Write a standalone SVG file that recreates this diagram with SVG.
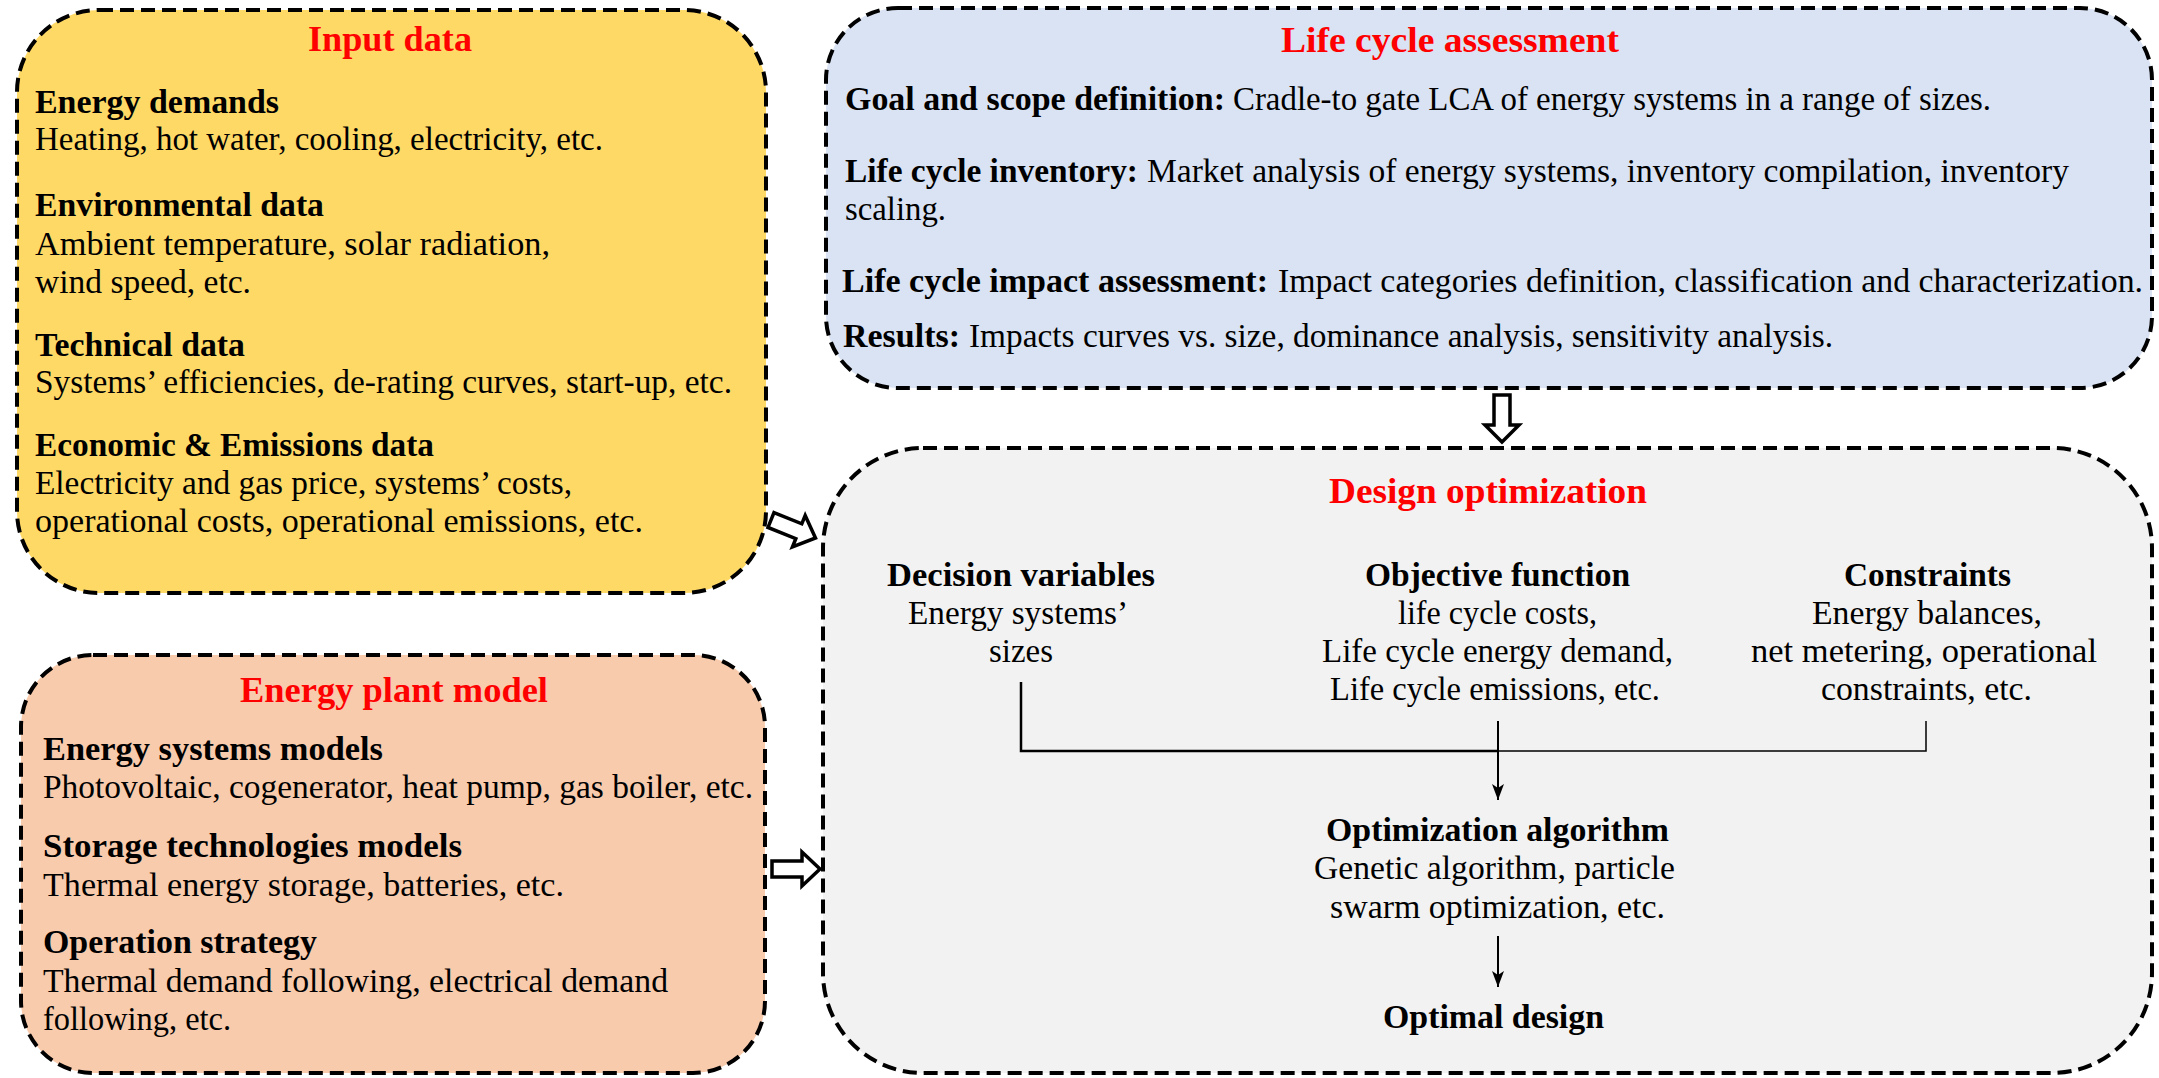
<svg xmlns="http://www.w3.org/2000/svg" width="2159" height="1078" viewBox="0 0 2159 1078">
<style>
.box{stroke:#000;stroke-width:4;stroke-dasharray:14 7}
text{font-family:"Liberation Serif","Times New Roman",serif;fill:#000}
.h{font-weight:bold;font-size:33.5px}
.r{font-size:33.5px}
.t{font-weight:bold;font-size:36px;fill:#FF0000}
.blk{fill:#fff;stroke:#000;stroke-width:3.5;stroke-linejoin:miter}
.cn{stroke:#000;fill:none}
</style>
<defs>
<marker id="ah" markerUnits="userSpaceOnUse" markerWidth="18" markerHeight="12" refX="16" refY="6" orient="auto">
<path d="M0,0 L16,6 L0,12 L4,6 z" fill="#000"/>
</marker>
</defs>
<rect width="2159" height="1078" fill="#fff"/>

<g id="input-data">
<rect class="box" x="17" y="10" width="749" height="583" rx="82" ry="82" fill="#FFD966"/>
<text class="t" x="308" y="51" textLength="164" lengthAdjust="spacingAndGlyphs">Input data</text>
<text class="h" x="35" y="113" textLength="244" lengthAdjust="spacingAndGlyphs">Energy demands</text>
<text class="r" x="35" y="150" textLength="568" lengthAdjust="spacingAndGlyphs">Heating, hot water, cooling, electricity, etc.</text>
<text class="h" x="35" y="216" textLength="289" lengthAdjust="spacingAndGlyphs">Environmental data</text>
<text class="r" x="35" y="255" textLength="515" lengthAdjust="spacingAndGlyphs">Ambient temperature, solar radiation,</text>
<text class="r" x="35" y="293" textLength="216" lengthAdjust="spacingAndGlyphs">wind speed, etc.</text>
<text class="h" x="35" y="356" textLength="210" lengthAdjust="spacingAndGlyphs">Technical data</text>
<text class="r" x="35" y="393" textLength="697" lengthAdjust="spacingAndGlyphs">Systems’ efficiencies, de-rating curves, start-up, etc.</text>
<text class="h" x="35" y="456" textLength="399" lengthAdjust="spacingAndGlyphs">Economic &amp; Emissions data</text>
<text class="r" x="35" y="494" textLength="537" lengthAdjust="spacingAndGlyphs">Electricity and gas price, systems’ costs,</text>
<text class="r" x="35" y="532" textLength="608" lengthAdjust="spacingAndGlyphs">operational costs, operational emissions, etc.</text>
</g>

<g id="energy-plant-model">
<rect class="box" x="21" y="655" width="744" height="418" rx="72" ry="72" fill="#F8CBAD"/>
<text class="t" x="240" y="702" textLength="308" lengthAdjust="spacingAndGlyphs">Energy plant model</text>
<text class="h" x="43" y="760" textLength="340" lengthAdjust="spacingAndGlyphs">Energy systems models</text>
<text class="r" x="43" y="798" textLength="710" lengthAdjust="spacingAndGlyphs">Photovoltaic, cogenerator, heat pump, gas boiler, etc.</text>
<text class="h" x="43" y="857" textLength="419" lengthAdjust="spacingAndGlyphs">Storage technologies models</text>
<text class="r" x="43" y="896" textLength="521" lengthAdjust="spacingAndGlyphs">Thermal energy storage, batteries, etc.</text>
<text class="h" x="43" y="953" textLength="274" lengthAdjust="spacingAndGlyphs">Operation strategy</text>
<text class="r" x="43" y="992" textLength="625" lengthAdjust="spacingAndGlyphs">Thermal demand following, electrical demand</text>
<text class="r" x="43" y="1030" textLength="188" lengthAdjust="spacingAndGlyphs">following, etc.</text>
</g>

<g id="life-cycle-assessment">
<rect class="box" x="826" y="8" width="1326" height="380" rx="72" ry="72" fill="#DAE3F3"/>
<text class="t" x="1281" y="52" textLength="338" lengthAdjust="spacingAndGlyphs">Life cycle assessment</text>
<text class="h" x="845" y="110" textLength="380" lengthAdjust="spacingAndGlyphs">Goal and scope definition:</text>
<text class="r" x="1233" y="110" textLength="758" lengthAdjust="spacingAndGlyphs">Cradle-to gate LCA of energy systems in a range of sizes.</text>
<text class="h" x="845" y="182" textLength="293" lengthAdjust="spacingAndGlyphs">Life cycle inventory:</text>
<text class="r" x="1147" y="182" textLength="922" lengthAdjust="spacingAndGlyphs">Market analysis of energy systems, inventory compilation, inventory</text>
<text class="r" x="845" y="220" textLength="101" lengthAdjust="spacingAndGlyphs">scaling.</text>
<text class="h" x="842" y="292" textLength="426" lengthAdjust="spacingAndGlyphs">Life cycle impact assessment:</text>
<text class="r" x="1278" y="292" textLength="865" lengthAdjust="spacingAndGlyphs">Impact categories definition, classification and characterization.</text>
<text class="h" x="843" y="347" textLength="117" lengthAdjust="spacingAndGlyphs">Results:</text>
<text class="r" x="969" y="347" textLength="864" lengthAdjust="spacingAndGlyphs">Impacts curves vs. size, dominance analysis, sensitivity analysis.</text>
</g>

<g id="design-optimization">
<rect class="box" x="823" y="448" width="1329" height="625" rx="100" ry="100" fill="#F2F2F2"/>
<text class="t" x="1329" y="503" textLength="318" lengthAdjust="spacingAndGlyphs">Design optimization</text>
<g id="decision-variables">
<text class="h" x="887" y="586" textLength="268" lengthAdjust="spacingAndGlyphs">Decision variables</text>
<text class="r" x="908" y="624" textLength="220" lengthAdjust="spacingAndGlyphs">Energy systems’</text>
<text class="r" x="989" y="662" textLength="64" lengthAdjust="spacingAndGlyphs">sizes</text>
</g>
<g id="objective-function">
<text class="h" x="1365" y="586" textLength="265" lengthAdjust="spacingAndGlyphs">Objective function</text>
<text class="r" x="1398" y="624" textLength="199" lengthAdjust="spacingAndGlyphs">life cycle costs,</text>
<text class="r" x="1322" y="662" textLength="351" lengthAdjust="spacingAndGlyphs">Life cycle energy demand,</text>
<text class="r" x="1330" y="700" textLength="330" lengthAdjust="spacingAndGlyphs">Life cycle emissions, etc.</text>
</g>
<g id="constraints">
<text class="h" x="1844" y="586" textLength="167" lengthAdjust="spacingAndGlyphs">Constraints</text>
<text class="r" x="1812" y="624" textLength="230" lengthAdjust="spacingAndGlyphs">Energy balances,</text>
<text class="r" x="1751" y="662" textLength="346" lengthAdjust="spacingAndGlyphs">net metering, operational</text>
<text class="r" x="1821" y="700" textLength="211" lengthAdjust="spacingAndGlyphs">constraints, etc.</text>
</g>
<g id="optimization-algorithm">
<text class="h" x="1326" y="841" textLength="343" lengthAdjust="spacingAndGlyphs">Optimization algorithm</text>
<text class="r" x="1314" y="879" textLength="361" lengthAdjust="spacingAndGlyphs">Genetic algorithm, particle</text>
<text class="r" x="1330" y="918" textLength="335" lengthAdjust="spacingAndGlyphs">swarm optimization, etc.</text>
</g>
<g id="optimal-design">
<text class="h" x="1383" y="1028" textLength="221" lengthAdjust="spacingAndGlyphs">Optimal design</text>
</g>
</g>

<g id="connectors">
<polygon class="blk" transform="translate(771,520) rotate(22)" points="0,-8 30,-8 30,-17 48,0 30,17 30,8 0,8"/>
<polygon class="blk" points="772,861 802,861 802,852 820,869 802,886 802,877 772,877"/>
<polygon class="blk" points="1494,395 1510,395 1510,425 1519,425 1502,442 1485,425 1494,425"/>
<polyline class="cn" stroke-width="2.5" points="1021,682 1021,751 1498,751"/>
<polyline class="cn" stroke-width="1.5" points="1498,751 1926,751 1926,721"/>
<line class="cn" stroke-width="2" x1="1498" y1="721" x2="1498" y2="800" marker-end="url(#ah)"/>
<line class="cn" stroke-width="2" x1="1498" y1="936" x2="1498" y2="987" marker-end="url(#ah)"/>
</g>
</svg>
